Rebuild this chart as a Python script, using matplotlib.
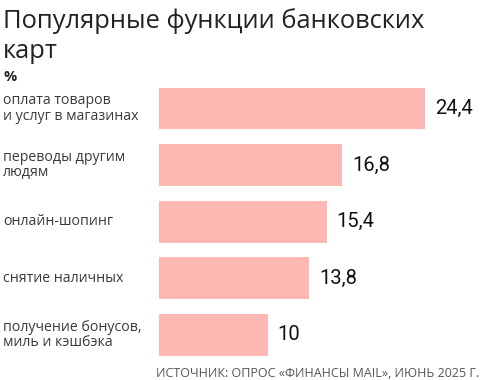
import matplotlib.pyplot as plt

# data
categories = ['оплата товаров\nи услуг в магазинах', 'переводы другим\nлюдям',
              'онлайн-шопинг', 'снятие наличных', 'получение бонусов,\nмиль и кэшбэка']
values = [24.4, 16.8, 15.4, 13.8, 10]
value_labels = ['24,4', '16,8', '15,4', '13,8', '10']

plt.rcParams['font.family'] = ['Open Sans', 'DejaVu Sans']

fig = plt.figure(figsize=(4.83, 3.80), dpi=100)
ax = fig.add_axes([159/483, 1 - 363.3/380, 1 - 159/483, (363.3 - 80.2)/380])

ypos = list(range(len(values)))
ax.barh(ypos, values, height=0.74, color='#fdb8b4')
ax.set_xlim(0, 324/10.9)
ax.set_ylim(len(values) - 0.5, -0.5)
ax.axis('off')

# value labels to the right of each bar
for y, v, lab in zip(ypos, values, value_labels):
    ax.text(v + 0.9, y, lab, va='center', ha='left', fontsize=14.5,
            family=['Roboto', 'DejaVu Sans'], stretch='condensed', color='#111111')

# category labels at the left edge of the figure
for y, cat in zip(ypos, categories):
    ax.annotate(cat, xy=(0, y), xycoords=('figure fraction', 'data'),
                xytext=(3, 0), textcoords='offset pixels',
                va='center', ha='left', fontsize=10.2, color='#3a3a3a',
                linespacing=1.05)

# title in two lines
fig.text(3/483, 1 - 28/380, 'Популярные функции банковских', fontsize=18.4,
         color='#222222', va='baseline', ha='left')
fig.text(3/483, 1 - 58/380, 'карт', fontsize=18.4,
         color='#222222', va='baseline', ha='left')
fig.text(3/483, 1 - 81/380, '%', fontsize=10.5, fontweight='bold', color='#222222',
         va='baseline', ha='left')
fig.text(479/483, 1 - 377/380, 'ИСТОЧНИК: ОПРОС «ФИНАНСЫ MAIL», ИЮНЬ 2025 Г.',
         fontsize=9, color='#555555', va='baseline', ha='right')

fig.savefig('out.png', dpi=100)
